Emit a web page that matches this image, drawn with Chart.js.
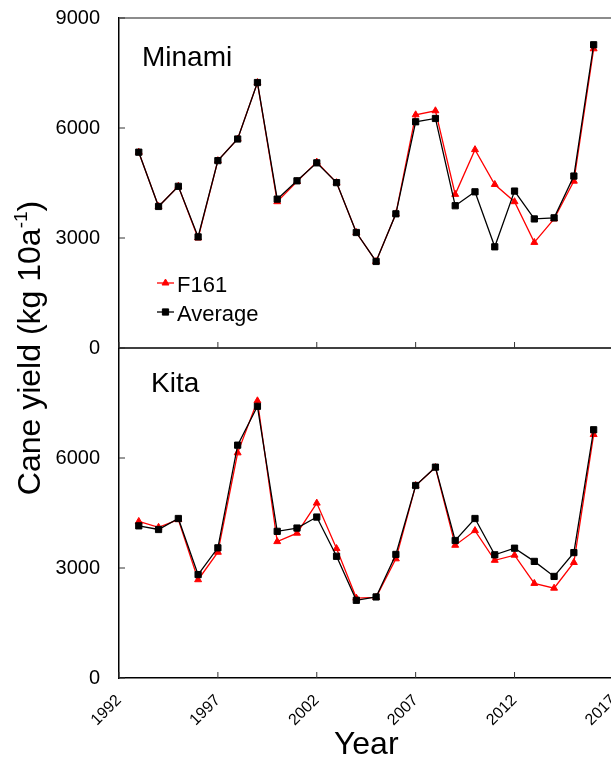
<!DOCTYPE html>
<html>
<head>
<meta charset="utf-8">
<script src="https://cdn.jsdelivr.net/npm/chart.js@4.4.0/dist/chart.umd.min.js"></script>
<style>
  body { margin: 0; overflow: hidden; background: #fff; }
  #chart { display: block; }
</style>
</head>
<body>
<canvas id="chart" width="640" height="764"></canvas>
<script>
const years = [1993, 1994, 1995, 1996, 1997, 1998, 1999, 2000, 2001, 2002, 2003, 2004,
  2005, 2006, 2007, 2008, 2009, 2010, 2011, 2012, 2013, 2014, 2015, 2016];

const minamiF161 = [5340, 3860, 4410, 3000, 5110, 5700, 7240, 3990, 4540, 5070, 4510, 3150,
  2360, 3660, 6360, 6470, 4190, 5410, 4460, 3990, 2880, 3520, 4550, 8160];
const minamiAvg = [5340, 3860, 4410, 3030, 5110, 5700, 7240, 4060, 4560, 5050, 4510, 3150,
  2360, 3660, 6170, 6260, 3880, 4260, 2760, 4280, 3520, 3550, 4690, 8270];

const kitaF161 = [4270, 4110, 4320, 2680, 3430, 6140, 7560, 3720, 3950, 4770, 3530, 2180,
  2200, 3250, 5250, 5740, 3620, 4020, 3210, 3350, 2580, 2450, 3150, 6640];
const kitaAvg = [4150, 4050, 4350, 2820, 3550, 6350, 7410, 4000, 4090, 4390, 3320, 2120,
  2210, 3370, 5250, 5750, 3750, 4350, 3360, 3540, 3180, 2770, 3420, 6770];

const yearTicks = [1992, 1997, 2002, 2007, 2012, 2017];
const yieldTicks = [0, 3000, 6000, 9000];

const FONT = "'Liberation Sans', Arial, sans-serif";
Chart.defaults.font.family = FONT;
Chart.defaults.color = "#000";

const toPoints = (vals) => vals.map((v, i) => ({ x: years[i], y: v }));

const series = (label, color, shape, radius, vals, axis) => ({
  label,
  data: toPoints(vals),
  yAxisID: axis,
  borderColor: color,
  backgroundColor: color,
  borderWidth: 1.3,
  pointStyle: shape,
  pointRadius: radius,
  pointHoverRadius: radius,
  pointBorderWidth: 1,
  tension: 0,
});

const yScale = (hideTop) => ({
  type: "linear",
  position: "left",
  stack: "panels",
  stackWeight: 1,
  min: 0,
  max: 9000,
  afterFit: (s) => {
    s.width = 119;
    s.paddingTop = 0;
    s.paddingBottom = 0;
  },
  afterBuildTicks: (s) => {
    s.ticks = yieldTicks.map((v) => ({ value: v }));
  },
  grid: { display: false, drawTicks: false },
  border: { display: true, color: "#000", width: 1.5 },
  ticks: {
    padding: 19,
    font: { size: 20 },
    color: "#000",
    callback: (v) => (hideTop && v === 9000 ? "" : String(v)),
  },
});

const line = (ctx, x1, y1, x2, y2) => {
  ctx.beginPath();
  ctx.moveTo(x1, y1);
  ctx.lineTo(x2, y2);
  ctx.stroke();
};

// frame lines, inward ticks, panel names, legend and y title
const panelDecor = {
  id: "panelDecor",
  afterDraw(chart) {
    const { ctx, chartArea, scales } = chart;
    const { x, yTop, yBottom } = scales;
    const left = chartArea.left;
    ctx.save();

    ctx.lineWidth = 1.5;
    ctx.strokeStyle = "#666";
    line(ctx, left, yTop.top, chartArea.right, yTop.top);
    ctx.strokeStyle = "#000";
    line(ctx, left, yTop.bottom, chartArea.right, yTop.bottom);

    ctx.lineWidth = 1;
    ctx.strokeStyle = "#333";
    x.ticks.forEach((t) => {
      const px = x.getPixelForValue(t.value);
      [yTop.bottom, yBottom.bottom].forEach((b) => line(ctx, px, b, px, b - 6));
    });
    [yTop, yBottom].forEach((s) =>
      s.ticks.forEach((t) => {
        const py = s.getPixelForValue(t.value);
        line(ctx, left, py, left + 6, py);
      })
    );

    ctx.fillStyle = "#000";
    ctx.textAlign = "left";
    ctx.textBaseline = "alphabetic";
    ctx.font = "28px " + FONT;
    ctx.fillText("Minami", left + 23, yTop.top + 48);
    ctx.fillText("Kita", left + 32, yBottom.top + 44);

    // legend
    const items = [
      { text: "F161", color: "red", shape: "triangle", radius: 4, y: yTop.top + 265 },
      { text: "Average", color: "#000", shape: "rect", radius: 4.4, y: yTop.top + 294 },
    ];
    ctx.font = "22px " + FONT;
    items.forEach((it) => {
      ctx.strokeStyle = it.color;
      ctx.fillStyle = it.color;
      ctx.lineWidth = 1.3;
      line(ctx, left + 38, it.y, left + 55, it.y);
      ctx.lineWidth = 1;
      Chart.helpers.drawPoint(ctx, { pointStyle: it.shape, radius: it.radius, borderWidth: 1 }, left + 46.5, it.y);
      ctx.fillStyle = "#000";
      ctx.fillText(it.text, left + 58, it.y + 8.5);
    });

    // y axis title with superscript
    const main = "Cane yield (kg 10a";
    const sup = "-1";
    const close = ")";
    ctx.font = "32px " + FONT;
    const w1 = ctx.measureText(main).width;
    const w3 = ctx.measureText(close).width;
    ctx.font = "19px " + FONT;
    const w2 = ctx.measureText(sup).width;
    ctx.translate(40, (chartArea.top + chartArea.bottom) / 2);
    ctx.rotate(-Math.PI / 2);
    const start = -(w1 + w2 + w3) / 2;
    ctx.font = "32px " + FONT;
    ctx.fillText(main, start, 0);
    ctx.fillText(close, start + w1 + w2, 0);
    ctx.font = "19px " + FONT;
    ctx.fillText(sup, start + w1, -13);

    ctx.restore();
  },
};

new Chart(document.getElementById("chart"), {
  type: "line",
  data: {
    datasets: [
      series("Average", "#000", "rect", 4.4, minamiAvg, "yTop"),
      series("Average", "#000", "rect", 4.4, kitaAvg, "yBottom"),
      series("F161", "red", "triangle", 4, minamiF161, "yTop"),
      series("F161", "red", "triangle", 4, kitaF161, "yBottom"),
    ],
  },
  options: {
    responsive: false,
    animation: false,
    layout: { padding: { top: 18, right: 19.5, left: 0, bottom: 0 } },
    plugins: {
      legend: { display: false },
      tooltip: { enabled: false },
    },
    scales: {
      x: {
        type: "linear",
        min: 1992,
        max: 2017,
        afterFit: (s) => {
          s.height = 86;
        },
        afterBuildTicks: (s) => {
          s.ticks = yearTicks.map((v) => ({ value: v }));
        },
        grid: { display: false, drawTicks: false },
        border: { display: true, color: "#000", width: 1.5 },
        ticks: {
          autoSkip: false,
          minRotation: 45,
          maxRotation: 45,
          padding: 13,
          font: { size: 16 },
          color: "#000",
          callback: (v) => String(v),
        },
        title: {
          display: true,
          text: "Year",
          font: { size: 32 },
          color: "#000",
          padding: { top: 0, bottom: 0 },
        },
      },
      // stacked axes are placed bottom-up in definition order
      yBottom: yScale(true),
      yTop: yScale(false),
    },
  },
  plugins: [panelDecor],
});
</script>
</body>
</html>
